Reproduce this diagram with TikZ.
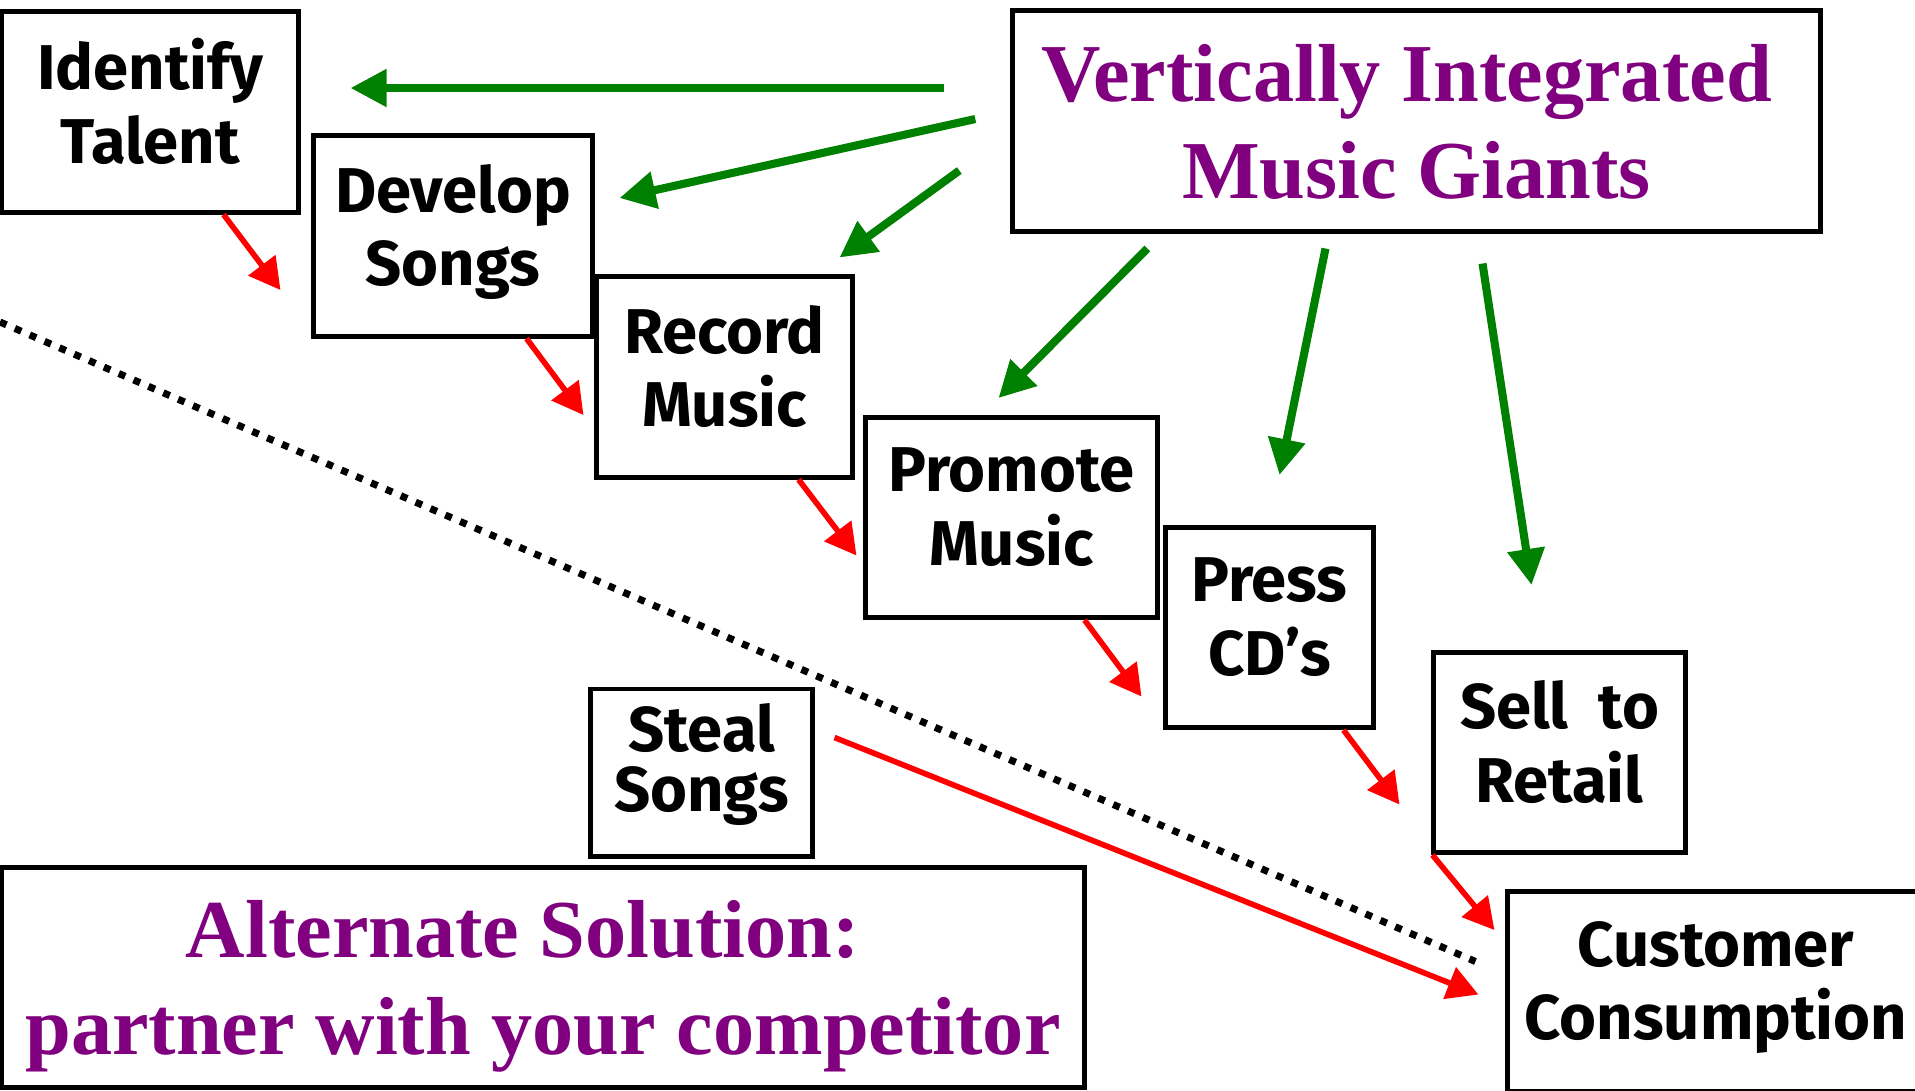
\documentclass[tikz,border=0pt]{standalone}
\usepackage{fontspec}
\setmainfont{Liberation Serif}
\newfontfamily\comicfont{Fira Sans}
\usetikzlibrary{arrows.meta,calc}
\definecolor{giantpurple}{RGB}{128,0,128}
\definecolor{giantgreen}{RGB}{0,128,0}

\tikzset{
  stepbox/.style={draw, line width=1.4pt, inner sep=0pt, align=center,
    minimum height=2.0cm, text depth=0.22cm,
    font=\comicfont\bfseries\fontsize{18}{21}\selectfont},
  titlebox/.style={draw, line width=1.4pt, inner sep=0pt, align=center,
    text=giantpurple, text depth=0pt,
    font=\bfseries\fontsize{23.4}{27.6}\selectfont},
  redarrow/.style={-{Triangle[length=0.31cm,width=0.33cm]}, line width=1.6pt, draw=red},
  greenarrow/.style={-{Triangle[length=0.36cm,width=0.36cm]}, line width=2.3pt, draw=giantgreen},
  divider/.style={line width=2pt, dash pattern=on 2pt off 2.6pt}
}

\begin{document}
\begin{tikzpicture}[x=0.01cm,y=-0.01cm]
   \path[use as bounding box, clip] (0,0) rectangle (1915,1090);

   % the chain
   \node[stepbox, minimum width=2.96cm] (identify) at (150,112)    {Identify\\Talent};
   \node[stepbox, minimum width=2.78cm] (develop)  at (453,236)    {Develop\\Songs};
   \node[stepbox, minimum width=2.55cm] (record)   at (724.5,377)  {Record\\Music};
   \node[stepbox, minimum width=2.91cm] (promote)  at (1011.5,517.5) {Promote\\Music};
   \node[stepbox, minimum width=2.07cm] (press)    at (1269.5,627.5) {Press\\CD’s};
   \node[stepbox, minimum width=2.51cm] (sell)     at (1559.5,752.5) {Sell~~to\\Retail};
   \node[stepbox, minimum width=4.16cm] (customer) at (1716,991.5) {Customer\\Consumption};
   \node[stepbox, minimum width=2.21cm, minimum height=1.67cm, text depth=0.30cm,
         font=\comicfont\bfseries\fontsize{18}{17}\selectfont] (steal) at (701.5,772.5) {Steal\\Songs};

   \node[titlebox, minimum width=8.07cm, minimum height=2.20cm] (giants) at (1416.5,121)
      {Vertically Integrated\hspace*{0.2cm}\\Music Giants};
   \node[titlebox, minimum width=10.83cm, minimum height=2.19cm] (alternate) at (543,977.5)
      {Alternate Solution:\hspace*{0.4cm}\\partner with your competitor};

   % red flow
   \draw[redarrow] ($(identify.south east)+(-77,0)$) -- ($(develop.west)+(-31,54)$);
   \draw[redarrow] ($(develop.south east)+(-68,0)$)  -- ($(record.west)+(-11,38)$);
   \draw[redarrow] ($(record.south east)+(-56,0)$)   -- ($(promote.west)+(-7,38)$);
   \draw[redarrow] ($(promote.south east)+(-75,0)$)  -- ($(press.west)+(-22,69)$);
   \draw[redarrow] ($(press.south east)+(-32,0)$)    -- ($(sell.west)+(-32,52)$);
   \draw[redarrow] ($(sell.south west)+(1,0)$)       -- ($(customer.north west)+(-11,41)$);
   \draw[redarrow] ($(steal.east)+(20,-35)$)         -- ($(customer.west)+(-27,3)$);

   % green control
   \draw[greenarrow] ($(giants.west)+(-66,-33)$)        -- ($(identify.east)+(50,-24)$);
   \draw[greenarrow] ($(giants.west)+(-35,-2)$)         -- ($(develop.east)+(25,-38)$);
   \draw[greenarrow] ($(giants.south west)+(-51,-63)$)  -- ($(record.north east)+(-15,-17)$);
   \draw[greenarrow] ($(giants.south west)+(137,15)$)   -- ($(promote.north)+(-13,-17)$);
   \draw[greenarrow] ($(giants.south)+(-91,15)$)        -- ($(press.north)+(10,-50)$);
   \draw[greenarrow] ($(giants.south)+(66,30)$)         -- ($(sell.north)+(-28,-65)$);

   %\draw[help lines] (0,0) grid (1915,1090);
   \coordinate (divide) at (0,322);
   \draw[divider] (divide) -- ($(customer.west)+(-30,-30)$);
\end{tikzpicture}
\end{document}
